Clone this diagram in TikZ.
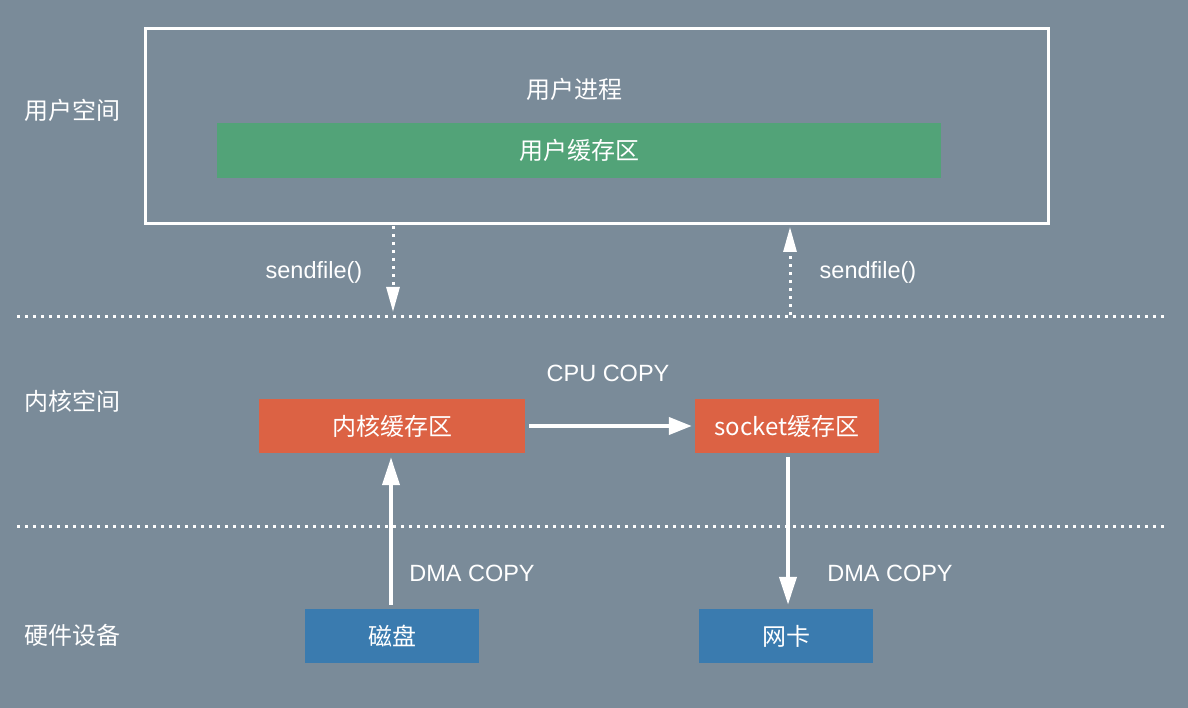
\documentclass[tikz,border=0pt]{standalone}
\usepackage{fontspec}
\setmainfont{Noto Sans CJK SC}
\newfontfamily\latinlbl{Liberation Sans}
\usetikzlibrary{arrows.meta}
\definecolor{bgc}{HTML}{7A8B99}
\definecolor{greenc}{HTML}{52A378}
\definecolor{orangec}{HTML}{DC6244}
\definecolor{bluec}{HTML}{3A7BAF}
\tikzset{
  txt/.style={text=white,font=\fontsize{24}{28}\selectfont,inner sep=0pt},
  lbl/.style={text=white,font=\latinlbl\fontsize{23.5}{27}\selectfont,inner sep=0pt},
  box/.style={txt,minimum width=#1,minimum height=54pt},
  wire/.style={draw=white,line width=4pt,-{Triangle[length=28pt,width=17pt]}},
  hwire/.style={draw=white,line width=4pt,-{Triangle[length=23pt,width=17pt]}},
  dotwire/.style={draw=white,line width=3pt,dash pattern=on 3pt off 5pt,-{Triangle[length=25pt,width=13pt]}},
  sep/.style={draw=white,line width=3pt,dash pattern=on 3pt off 5pt}
}
\begin{document}
\begin{tikzpicture}[x=1pt,y=-1pt]
\fill[bgc] (0,0) rectangle (1188,708);
\useasboundingbox (0,0) rectangle (1188,708);
% user space
\node[draw=white,line width=3pt,minimum width=903pt,minimum height=195pt,inner sep=0pt] (proc) at (596.5,126.5) {};
\node[txt] (ptitle) at (574,89) {用户进程};
\node[box=724pt,fill=greenc,minimum height=55pt] (ubuf) at (579,150.5) {用户缓存区};
% side labels
\node[txt,anchor=west] (l1) at (24,110) {用户空间};
\node[txt,anchor=west] (l2) at (24,401) {内核空间};
\node[txt,anchor=west] (l3) at (24,635) {硬件设备};
% separators
\coordinate (s1a) at (17,317);
\coordinate (s1b) at (1165,317);
\coordinate (s2a) at (17,526);
\coordinate (s2b) at (1165,526);
\draw[sep] (s1a) -- (s1b);
\draw[sep] (s2a) -- (s2b);
% kernel
\node[box=266pt,fill=orangec] (kbuf) at (392,426) {内核缓存区};
\node[box=184pt,fill=orangec] (sbuf) at (787,426) {socket缓存区};
% hardware
\node[box=174pt,fill=bluec] (disk) at (392,636) {磁盘};
\node[box=174pt,fill=bluec] (nic) at (786,636) {网卡};
% sendfile arrows
\coordinate (d1s) at (393,226);
\coordinate (d1e) at (393,312);
\coordinate (d2s) at (790,315);
\coordinate (d2e) at (790,227);
\draw[dotwire] (d1s) -- (d1e);
\draw[dotwire] (d2s) -- (d2e);
\node[lbl] (sf1) at (314,272) {sendfile()};
\node[lbl] (sf2) at (868,272) {sendfile()};
% copies
\draw[hwire,shorten <=4pt,shorten >=3pt] (kbuf.east) -- (sbuf.west);
\node[lbl] (cpu) at (608,373) {CPU COPY};
\draw[wire,shorten <=4pt,shorten >=4pt] ([xshift=-1pt]disk.north) -- ([xshift=-1pt]disk.north |- kbuf.south);
\node[lbl] (dma1) at (472,573) {DMA COPY};
\draw[wire,shorten <=4pt,shorten >=4pt] ([xshift=1pt]sbuf.south) -- ([xshift=1pt]sbuf.south |- nic.north);
\node[lbl] (dma2) at (890,573) {DMA COPY};
\end{tikzpicture}
\end{document}
